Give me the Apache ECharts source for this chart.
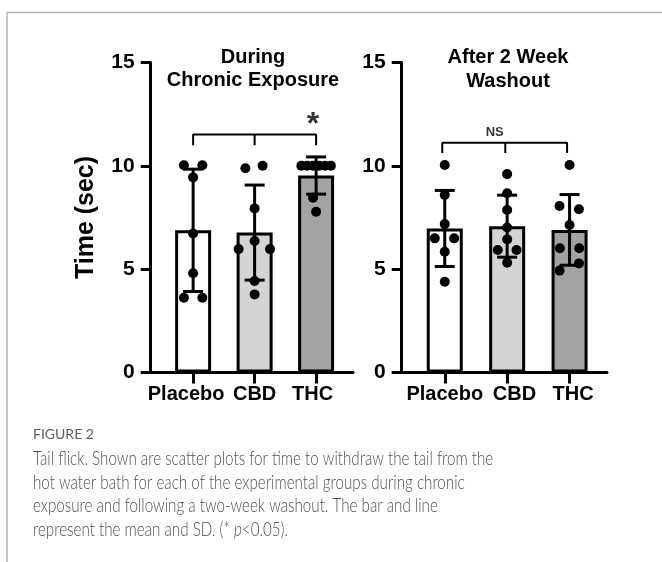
<!DOCTYPE html>
<html>
<head>
<meta charset="utf-8">
<script src="https://cdn.jsdelivr.net/npm/echarts@6/dist/echarts.min.js"></script>
<style>html,body{margin:0;padding:0;background:#fff;}#c{width:662px;height:562px;}</style>
</head>
<body>
<div id="c"></div>
<script>
// ---- data ----
const categories = ['Placebo', 'CBD', 'THC'];
const yTicks = [0, 5, 10, 15];
const barColors = ['#ffffff', '#d4d4d4', '#a3a3a3'];

// During chronic exposure
const chronicMean = [6.88, 6.77, 9.53];
const chronicSD = [2.96, 2.30, 0.90];
const chronicPlacebo = [10.03, 10.03, 9.44, 6.73, 4.80, 3.62, 3.62];
const chronicPlaceboJit = [-0.15, 0.15, 0, 0, 0, -0.15, 0.15];
const chronicCBD = [9.88, 10.0, 7.94, 6.36, 5.97, 5.97, 4.43, 3.78];
const chronicCBDJit = [-0.15, 0.13, 0, 0, -0.26, 0.25, 0, 0];
const chronicTHC = [10, 10, 10, 10, 10, 10, 8.46, 7.78];
const chronicTHCJit = [-0.24, -0.145, -0.05, 0.05, 0.145, 0.24, -0.05, 0];

// After 2 week washout
const washoutMean = [6.97, 7.08, 6.90];
const washoutSD = [1.84, 1.50, 1.71];
const washoutPlacebo = [10.04, 8.59, 7.18, 6.49, 6.49, 5.84, 4.39];
const washoutPlaceboJit = [0, 0, 0, -0.16, 0.15, 0, 0];
const washoutCBD = [9.6, 8.67, 7.86, 7.02, 6.44, 5.93, 5.93, 5.31];
const washoutCBDJit = [0, 0, 0, 0, 0, -0.15, 0.15, 0];
const washoutTHC = [10.04, 8.06, 7.9, 7.14, 6.01, 6.01, 5.28, 4.93];
const washoutTHCJit = [0, -0.16, 0.15, 0, -0.155, 0.155, 0.15, -0.16];

// significance brackets [x, y]
const chronicBracket = [[0, 10.99], [0, 11.52], [2, 11.52], [2, 10.99]];
const chronicBracketMid = [[1, 11.52], [1, 10.99]];
const chronicStar = [[1.95, 11.95]];
const washoutBracket = [[-0.04, 10.62], [-0.04, 11.12], [1.96, 11.12], [1.96, 10.62]];
const washoutBracketMid = [[0.97, 11.12], [0.97, 10.62]];
const washoutNS = [[0.8, 11.63]];

const titles = ['During\nChronic Exposure', 'After 2 Week\nWashout'];
const yName = 'Time (sec)';
const captionHead = 'FIGURE 2';
const captionLines = [
  'Tail flick. Shown are scatter plots for time to withdraw the tail from the',
  'hot water bath for each of the experimental groups during chronic',
  'exposure and following a two-week washout. The bar and line',
  'represent the mean and SD. (* {i|p}<0.05).'
];

// ---- chart ----
const FONT = 'Liberation Sans, Arial, sans-serif';
const CAPFONT = 'Lato, "Open Sans", sans-serif';
const chart = echarts.init(document.getElementById('c'), null, {renderer: 'canvas'});

function pts(vals, jit, cat) { return vals.map((v, i) => [cat + jit[i], v]); }

function errRender(params, api) {
  const x = api.value(0), m = api.value(1), s = api.value(2);
  const t = api.coord([x, m + s]);
  const b = api.coord([x, m - s]);
  const hw = 10;
  const st = {stroke: '#000', lineWidth: 3};
  return {type: 'group', children: [
    {type: 'line', shape: {x1: t[0], y1: t[1], x2: b[0], y2: b[1]}, style: st},
    {type: 'line', shape: {x1: t[0] - hw, y1: t[1], x2: t[0] + hw, y2: t[1]}, style: st},
    {type: 'line', shape: {x1: b[0] - hw, y1: b[1], x2: b[0] + hw, y2: b[1]}, style: st}
  ]};
}

// label nudges (px) per panel
function xAxis(idx, shifts) {
  const rich = {};
  shifts.forEach((sh, i) => {
    rich['c' + i] = {fontFamily: FONT, fontWeight: 'bold', fontSize: 20, color: '#000',
      padding: sh < 0 ? [0, -2 * sh, 0, 0] : [0, 0, 0, 2 * sh]};
  });
  return {
    type: 'value', gridIndex: idx, min: -0.69, max: 2.6,
    axisLine: {show: true, onZero: false, lineStyle: {color: '#000', width: 3}},
    axisTick: {show: true, customValues: [0, 1, 2], length: 11, lineStyle: {color: '#000', width: 3}},
    axisLabel: {customValues: [0, 1, 2],
      formatter: v => { const i = Math.round(v); return categories[i] ? '{c' + i + '|' + categories[i] + '}' : ''; },
      rich: rich, hideOverlap: false,
      color: '#000', fontFamily: FONT, fontWeight: 'bold', fontSize: 20, margin: 12},
    splitLine: {show: false}
  };
}
function yAxis(idx, name) {
  return {
    type: 'value', gridIndex: idx, min: yTicks[0], max: yTicks[yTicks.length - 1], interval: 5,
    name: name || '', nameLocation: 'middle', nameGap: 52,
    nameTextStyle: {color: '#000', fontFamily: FONT, fontWeight: 'bold', fontSize: 25},
    axisLine: {show: true, onZero: false, lineStyle: {color: '#000', width: 3}},
    axisTick: {show: true, length: 10, lineStyle: {color: '#000', width: 3}},
    axisLabel: {color: '#000', fontFamily: FONT, fontWeight: 'bold', fontSize: 21, margin: 16},
    splitLine: {show: false}
  };
}

function panelSeries(idx, means, sds, groups, bracket, bracketMid, markData, markText, markSize) {
  const s = [];
  s.push({
    type: 'bar', xAxisIndex: idx, yAxisIndex: idx, barWidth: 36, z: 2,
    data: means.map((m, i) => ({value: [i, m], itemStyle: {color: barColors[i], borderColor: '#000', borderWidth: 3}})),
    silent: true
  });
  s.push({
    type: 'custom', xAxisIndex: idx, yAxisIndex: idx, z: 3, renderItem: errRender,
    encode: {x: 0, y: 1},
    data: means.map((m, i) => [i, m, sds[i]]), silent: true
  });
  groups.forEach(g => s.push({
    type: 'scatter', xAxisIndex: idx, yAxisIndex: idx, z: 4, symbolSize: 10,
    itemStyle: {color: '#000', opacity: 1}, data: g, silent: true
  }));
  [bracket, bracketMid].forEach(b => s.push({
    type: 'line', xAxisIndex: idx, yAxisIndex: idx, z: 4, data: b, symbol: 'none',
    lineStyle: {color: '#000', width: 2}, silent: true
  }));
  s.push({
    type: 'scatter', xAxisIndex: idx, yAxisIndex: idx, z: 5, symbolSize: 1,
    itemStyle: {color: 'rgba(0,0,0,0)'}, data: markData, silent: true,
    label: {show: true, position: 'inside', formatter: markText, color: '#000',
      textBorderWidth: 0, fontFamily: FONT, fontWeight: 'bold', fontSize: markSize}
  });
  return s;
}

const series = [].concat(
  panelSeries(0, chronicMean, chronicSD,
    [pts(chronicPlacebo, chronicPlaceboJit, 0), pts(chronicCBD, chronicCBDJit, 1), pts(chronicTHC, chronicTHCJit, 2)],
    chronicBracket, chronicBracketMid, chronicStar, '*', 32),
  panelSeries(1, washoutMean, washoutSD,
    [pts(washoutPlacebo, washoutPlaceboJit, 0), pts(washoutCBD, washoutCBDJit, 1), pts(washoutTHC, washoutTHCJit, 2)],
    washoutBracket, washoutBracketMid, washoutNS, 'NS', 13)
);

const option = {
  backgroundColor: '#fff',
  animation: false,
  title: [
    {text: titles[0], left: 253, top: 46, textAlign: 'center', padding: 0,
      textStyle: {color: '#000', fontFamily: FONT, fontWeight: 'bold', fontSize: 20, lineHeight: 23}},
    {text: titles[1], left: 508, top: 45, textAlign: 'center', padding: 0,
      textStyle: {color: '#000', fontFamily: FONT, fontWeight: 'bold', fontSize: 20, lineHeight: 24}}
  ],
  grid: [
    {left: 150.7, top: 62.5, width: 202.3, height: 310, containLabel: false},
    {left: 401.7, top: 62.5, width: 205.3, height: 310, containLabel: false}
  ],
  xAxis: [xAxis(0, [-7, 0, -3.5]), xAxis(1, [0, 7.3, 3.5])],
  yAxis: [yAxis(0, yName), yAxis(1, '')],
  series: series,
  graphic: [
    {type: 'polyline', silent: true, shape: {points: [[7, 562], [7, 12.5], [662, 12.5]]},
      style: {stroke: '#b4b4b4', lineWidth: 1.5, fill: null}},
    {type: 'text', x: 33, y: 427, silent: true,
      style: {text: captionHead, fill: '#606060', font: '14px ' + CAPFONT}},
    {type: 'text', x: 33, y: 447, scaleX: 0.778, originX: 0, originY: 0, silent: true,
      style: {text: captionLines.join('\n'), fill: '#505050', fontFamily: CAPFONT,
        fontWeight: 300, fontSize: 19.5, lineHeight: 23.5,
        rich: {i: {fontStyle: 'italic', fill: '#505050', fontFamily: CAPFONT, fontWeight: 300, fontSize: 19.5, lineHeight: 23.5}}}}
  ]
};
chart.setOption(option);
</script>
</body>
</html>
